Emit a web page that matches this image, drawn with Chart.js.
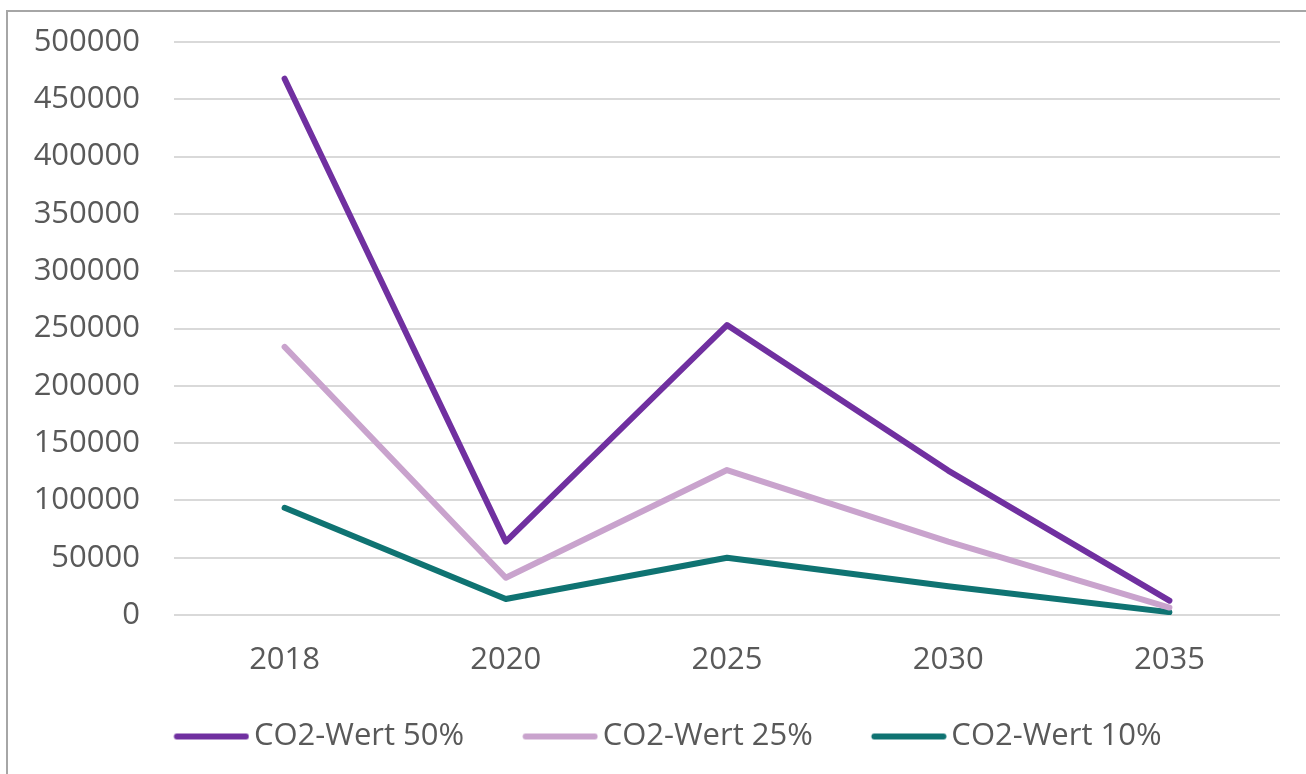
<!DOCTYPE html>
<html lang="de">
<head>
<meta charset="utf-8">
<title>CO2-Wert</title>
<script src="https://cdn.jsdelivr.net/npm/chart.js@4.4.1/dist/chart.umd.min.js"></script>
<style>
  html, body { margin: 0; padding: 0; background: #ffffff; overflow: hidden; }
  #wrap { position: relative; width: 1306px; height: 774px; }
  #frame {
    position: absolute; left: 6px; top: 10px; width: 1400px; height: 900px;
    border-top: 2px solid #a6a6a6; border-left: 2px solid #a6a6a6;
    box-sizing: border-box; pointer-events: none;
  }
  #chart { position: absolute; left: 0; top: 0; }
</style>
</head>
<body>
<div id="wrap">
  <div id="frame"></div>
  <canvas id="chart" width="1306" height="774"></canvas>
</div>
<script>
// Jahre auf der x-Achse
const years = ['2018', '2020', '2025', '2030', '2035'];

// Werte je Szenario
const co2Wert50 = [468000, 64000, 253000, 126000, 12500];
const co2Wert25 = [234000, 32500, 126500, 64000, 6500];
const co2Wert10 = [93500, 14000, 50000, 25000, 2500];

const seriesNames = ['CO2-Wert 50%', 'CO2-Wert 25%', 'CO2-Wert 10%'];
const seriesColors = ['#7030a0', '#c9a3cd', '#0f7372'];

// y-Achse: 0 bis 500000 in Schritten von 50000
const yMin = 0, yMax = 500000, yStep = 50000;

const FONT = '"Open Sans", "Liberation Sans", sans-serif';
const TEXT = '#595959';

// Legendensymbol: kurze, dicke Linie mit runden Enden
function swatch(color) {
  const c = document.createElement('canvas');
  c.width = 88; c.height = 8;
  const g = c.getContext('2d');
  g.strokeStyle = color;
  g.lineWidth = 6;
  g.lineCap = 'round';
  g.beginPath();
  g.moveTo(15.5, 4);
  g.lineTo(84.5, 4);
  g.stroke();
  return c;
}

// Nach dem Layout: Legende zur Rahmenmitte versetzen und den
// Beschriftungsbereich der x-Achse nach unten öffnen
const layoutTweaks = {
  id: 'layoutTweaks',
  afterLayout(chart) {
    if (chart.legend) chart.legend.left += 54;
    if (chart.scales.x) chart.scales.x.bottom += 24;
  }
};

const datasets = [co2Wert50, co2Wert25, co2Wert10].map((vals, i) => ({
  label: seriesNames[i],
  data: vals,
  borderColor: seriesColors[i],
  backgroundColor: seriesColors[i],
  borderWidth: 6,
  borderCapStyle: 'round',
  borderJoinStyle: 'round',
  pointRadius: 0,
  pointHoverRadius: 0,
  tension: 0,
  fill: false
}));

new Chart(document.getElementById('chart'), {
  type: 'line',
  data: { labels: years, datasets },
  plugins: [layoutTweaks],
  options: {
    responsive: false,
    animation: false,
    devicePixelRatio: 1,
    layout: { padding: { left: 0, right: 26, top: 42, bottom: 12 } },
    plugins: {
      tooltip: { enabled: false },
      legend: {
        position: 'bottom',
        labels: {
          usePointStyle: true,
          pointStyleWidth: 66,
          boxHeight: 8,
          padding: 57,
          color: TEXT,
          font: { family: FONT, size: 31 },
          generateLabels(chart) {
            const items = Chart.defaults.plugins.legend.labels.generateLabels(chart);
            items.forEach((it, i) => { it.pointStyle = swatch(seriesColors[i]); });
            return items;
          }
        }
      }
    },
    scales: {
      x: {
        offset: true,
        grid: { display: false, drawTicks: false },
        border: { display: false },
        ticks: { color: TEXT, font: { family: FONT, size: 31 }, padding: 27, maxRotation: 0 },
        afterFit(scale) { scale.height = 49; }
      },
      y: {
        min: yMin,
        max: yMax,
        grid: { color: '#d9d9d9', lineWidth: 2, drawTicks: false },
        border: { display: false },
        ticks: {
          stepSize: yStep,
          color: TEXT,
          font: { family: FONT, size: 31 },
          padding: 34,
          callback: v => String(v)
        },
        afterFit(scale) {
          scale.width = 174;
          scale.paddingTop = 0;
          scale.paddingBottom = 0;
        }
      }
    }
  }
});
</script>
</body>
</html>
